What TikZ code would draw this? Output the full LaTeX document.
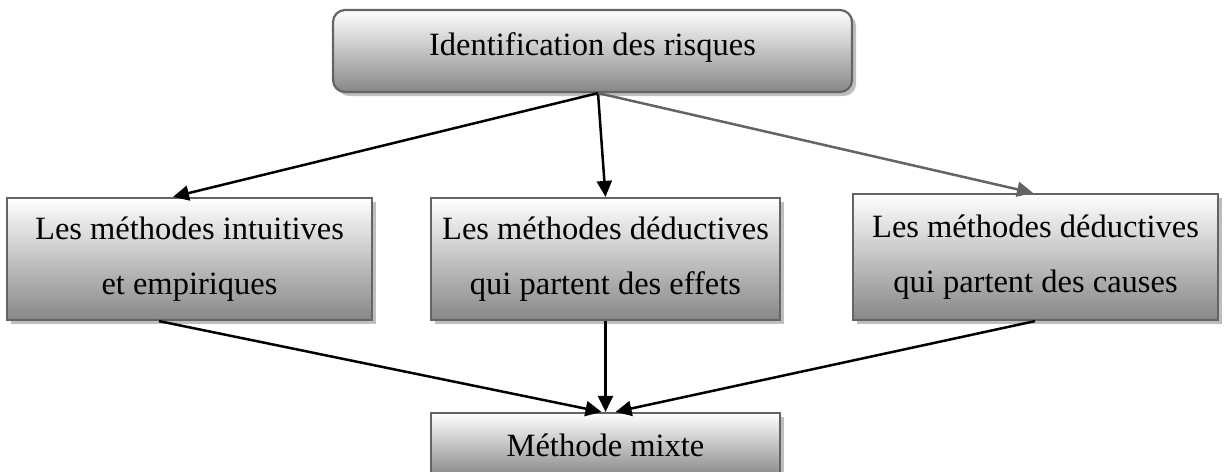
\documentclass[tikz,border=0pt]{standalone}
\usepackage{fontspec}
\setmainfont{Liberation Serif}
\usetikzlibrary{arrows.meta,shadows}
\definecolor{edge}{RGB}{100,100,100}
\definecolor{shade}{RGB}{135,135,135}
\definecolor{shadowgray}{RGB}{190,190,190}
\definecolor{greyarrow}{RGB}{100,100,100}
\begin{document}
\begin{tikzpicture}[x=1pt,y=-1pt,
  box/.style={draw=edge, line width=2.2pt, top color=white, bottom color=shade,
    drop shadow={shadow xshift=4pt,shadow yshift=-4pt,fill=shadowgray,opacity=1},
    align=center, inner sep=0pt, font=\fontsize{32.5}{55}\selectfont},
  link/.style={line width=2.5pt, -{Triangle[length=16pt,width=15pt]}}]
  \useasboundingbox (0,0) rectangle (1225,471);
  \clip (0,0) rectangle (1225,471);

  % boxes
  \node[box, rounded corners=12pt, minimum width=519pt, minimum height=82pt,
        text height=20pt, text depth=12pt] (top) at (592.5,51) {Identification des risques};
  \node[box, minimum width=365pt, minimum height=122pt] (b1) at (189.5,259) {Les méthodes intuitives\\et empiriques};
  \node[box, minimum width=349pt, minimum height=122pt] (b2) at (605.5,259) {Les méthodes déductives\\qui partent des effets};
  \node[box, minimum width=365pt, minimum height=126pt] (b3) at (1035.5,257) {Les méthodes déductives\\qui partent des causes};
  \node[box, minimum width=349pt, minimum height=64pt] (mix) at (605.5,445) {Méthode mixte};

  % connectors from the top box
  \draw[link] ([xshift=5.5pt]top.south) -- ([xshift=-16.5pt]b1.north);
  \draw[link] ([xshift=5.5pt]top.south) -- (b2.north);
  \draw[link, draw=greyarrow, fill=greyarrow] ([xshift=5.5pt]top.south) -- ([xshift=-2.5pt]b3.north);

  % connectors into the mixed method
  \draw[link] ([xshift=-30.5pt]b1.south) -- ([xshift=-4pt]mix.north);
  \draw[link] (b2.south) -- (mix.north);
  \draw[link] ([xshift=-0.5pt]b3.south) -- ([xshift=10pt]mix.north);
\end{tikzpicture}
\end{document}
